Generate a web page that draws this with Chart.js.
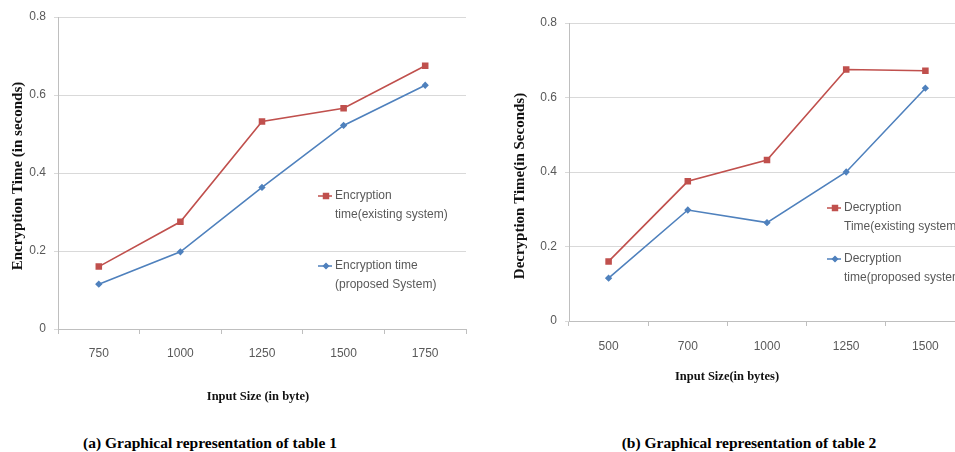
<!DOCTYPE html>
<html>
<head>
<meta charset="utf-8">
<script src="https://cdn.jsdelivr.net/npm/chart.js@4.4.0/dist/chart.umd.min.js"></script>
<style>
html, body { margin: 0; padding: 0; background: #fff; overflow: hidden; width: 955px; height: 452px; }
canvas { position: absolute; top: 0; }
#chartA { left: 0; }
#chartB { left: 480px; }
.cap { position: absolute; top: 434px; font: bold 15.5px "Liberation Serif", "Times New Roman", serif; color: #000; white-space: nowrap; transform: translateX(-50%); }
</style>
</head>
<body>
<canvas id="chartA" width="480" height="420"></canvas>
<canvas id="chartB" width="500" height="420"></canvas>
<div class="cap" style="left:210px">(a) Graphical representation of table 1</div>
<div class="cap" style="left:749px">(b) Graphical representation of table 2</div>
<script>
// table 1 - encryption
const encSizes = ['750', '1000', '1250', '1500', '1750'];
const encExisting = [0.16, 0.275, 0.532, 0.566, 0.675];
const encProposed = [0.115, 0.198, 0.363, 0.522, 0.625];

// table 2 - decryption
const decSizes = ['500', '700', '1000', '1250', '1500'];
const decExisting = [0.16, 0.375, 0.432, 0.675, 0.672];
const decProposed = [0.115, 0.298, 0.264, 0.40, 0.625];

const yTicks = [0, 0.2, 0.4, 0.6, 0.8];

const RED = '#c0504d';
const BLUE = '#4f81bd';
const tickFont = { family: '"Liberation Sans", Arial, sans-serif', size: 12 };

// legend drawn inside the plot, like the excel original
const inlineLegend = {
    id: 'inlineLegend',
    afterDraw(chart, args, opts) {
        const ctx = chart.ctx;
        ctx.save();
        ctx.font = '12px "Liberation Sans", Arial, sans-serif';
        ctx.textBaseline = 'middle';
        chart.data.datasets.forEach((ds, i) => {
            const [x, y] = opts.spots[i];
            ctx.strokeStyle = ds.borderColor;
            ctx.lineWidth = 1.5;
            ctx.beginPath();
            ctx.moveTo(x - 8, y);
            ctx.lineTo(x + 6, y);
            ctx.stroke();
            ctx.fillStyle = ds.pointBackgroundColor;
            ctx.strokeStyle = ds.pointBorderColor;
            Chart.helpers.drawPoint(ctx, { pointStyle: ds.pointStyle, radius: ds.pointRadius, rotation: 0, borderWidth: 1 }, x, y);
            ctx.fillStyle = '#595959';
            ds.legendLines.forEach((t, k) => ctx.fillText(t, x + 9, y + k * 19));
        });
        ctx.restore();
    }
};

const axisTitles = {
    id: 'axisTitles',
    afterDraw(chart, args, opts) {
        const ctx = chart.ctx;
        ctx.save();
        ctx.fillStyle = '#111';
        ctx.textAlign = 'center';
        ctx.textBaseline = 'middle';
        ctx.font = 'bold 12.5px "Liberation Serif", "Times New Roman", serif';
        ctx.fillText(opts.x.text, opts.x.at[0], opts.x.at[1]);
        ctx.translate(opts.y.at[0], opts.y.at[1]);
        ctx.rotate(-Math.PI / 2);
        ctx.font = 'bold 15px "Liberation Serif", "Times New Roman", serif';
        ctx.fillText(opts.y.text, 0, 0);
        ctx.restore();
    }
};

const makeSeries = (label, legendLines, data, color, style, radius) => ({
    label: label,
    legendLines: legendLines,
    data: data,
    borderColor: color,
    backgroundColor: color,
    pointBackgroundColor: color,
    pointBorderColor: color,
    pointStyle: style,
    pointRadius: radius,
    borderWidth: 1.6,
    tension: 0
});

const makeConfig = (labels, series, s) => ({
    type: 'line',
    data: { labels: labels, datasets: series },
    plugins: [inlineLegend, axisTitles],
    options: {
        responsive: false,
        animation: false,
        layout: { padding: s.padding },
        plugins: {
            legend: { display: false },
            tooltip: { enabled: false },
            inlineLegend: { spots: s.spots },
            axisTitles: s.titles
        },
        scales: {
            x: {
                offset: true,
                grid: { offset: true, drawOnChartArea: false, tickLength: 5, color: '#bfbfbf' },
                border: { color: '#bfbfbf' },
                ticks: { padding: s.xPad, color: '#595959', font: tickFont },
                afterFit(scale) { scale.height = s.xHeight; }
            },
            y: {
                min: 0,
                max: 0.8,
                afterBuildTicks(scale) { scale.ticks = yTicks.map(v => ({ value: v })); },
                grid: { color: '#d9d9d9', tickLength: 4 },
                border: { color: '#bfbfbf' },
                ticks: { padding: 8, color: '#595959', font: tickFont },
                afterFit(scale) { scale.width = s.yWidth; }
            }
        }
    }
});

new Chart(document.getElementById('chartA'), makeConfig(encSizes, [
    makeSeries('Encryption time(existing system)', ['Encryption', 'time(existing system)'], encExisting, RED, 'rect', 3.5),
    makeSeries('Encryption time (proposed System)', ['Encryption time', '(proposed System)'], encProposed, BLUE, 'rectRot', 2.5)
], {
    padding: { top: 17, right: 14, left: 0, bottom: 0 },
    yWidth: 58, xHeight: 91, xPad: 12,
    spots: [[326, 196], [326, 266]],
    titles: { x: { text: 'Input Size (in byte)', at: [258, 397] }, y: { text: 'Encryption Time (in seconds)', at: [18, 176] } }
}));

new Chart(document.getElementById('chartB'), makeConfig(decSizes, [
    makeSeries('Decryption Time(existing system)', ['Decryption', 'Time(existing system)'], decExisting, RED, 'rect', 3.5),
    makeSeries('Decryption time(proposed system)', ['Decryption', 'time(proposed system)'], decProposed, BLUE, 'rectRot', 2.5)
], {
    padding: { top: 23, right: 15, left: 30, bottom: 0 },
    yWidth: 59, xHeight: 99, xPad: 13,
    spots: [[355, 208], [355, 259]],
    titles: { x: { text: 'Input Size(in bytes)', at: [247, 377] }, y: { text: 'Decryption Time(in Seconds)', at: [40, 186] } }
}));
</script>
</body>
</html>
